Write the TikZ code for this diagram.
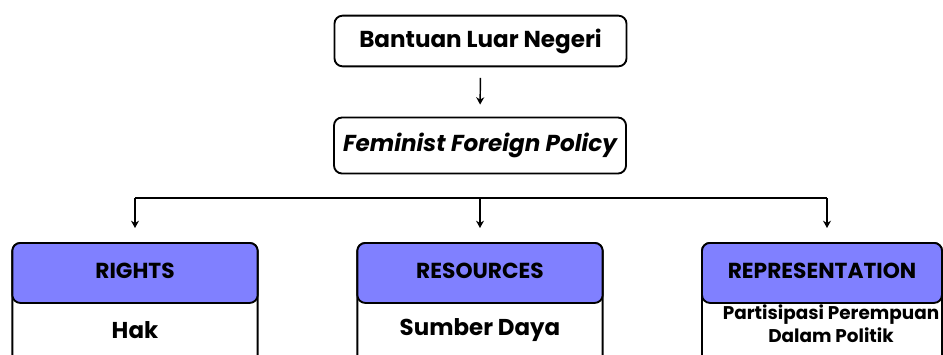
\documentclass[tikz,border=0pt]{standalone}
\usepackage{fontspec}
\setmainfont{Poppins}
\usetikzlibrary{arrows.meta,positioning}
\definecolor{headblue}{RGB}{128,128,255}
\tikzset{
  topbox/.style = {draw, line width=1.4pt, rounded corners=6pt, minimum width=219pt,
    minimum height=38pt, font=\fontsize{17.3}{19}\selectfont\bfseries},
  outerbox/.style = {draw, line width=1.4pt, rounded corners=6pt, fill=white,
    minimum width=184pt, minimum height=100pt},
  headbox/.style = {draw, line width=1.4pt, rounded corners=6pt, fill=headblue,
    minimum width=184pt, minimum height=45pt, text depth=3pt,
    font=\fontsize{16.3}{18}\selectfont\bfseries},
  bodytext/.style = {font=\fontsize{17.2}{19}\selectfont\bfseries, align=center},
  arr/.style = {line width=1.1pt, -{Stealth[length=5.5pt,width=6pt]}},
}
\begin{document}
\begin{tikzpicture}[x=0.75pt,y=-0.75pt]
\clip (0,0) rectangle (943,354);
\fill[white] (0,0) rectangle (943,354);
% top part
\node[topbox] (bantuan) at (480.5,41) {Bantuan Luar Negeri};
\node[topbox, minimum height=42pt] (ffp) at (480,145.5) {\itshape Feminist Foreign Policy};
\draw[arr, shorten <=8pt, shorten >=9pt] (bantuan.south) -- (ffp.north);
% branches
\coordinate (left) at (135,198);
\coordinate (mid) at (480,198);
\coordinate (right) at (827,198);
\draw[line width=1.1pt] (left) -- (right);
% three columns
\node[outerbox, anchor=north] (rightsbox) at (135,242) {};
\node[headbox, anchor=north] (rights) at (135,242) {RIGHTS};
\node[bodytext] (hak) at (135,330) {Hak};
\node[outerbox, anchor=north] (resbox) at (480,242) {};
\node[headbox, anchor=north] (resources) at (480,242) {RESOURCES};
\node[bodytext] (sumber) at (480,330) {Sumber Daya};
\node[outerbox, anchor=north, minimum width=180pt] (repbox) at (822,242) {};
\node[headbox, anchor=north, minimum width=180pt] (repr) at (822,242) {REPRESENTATION};
\node[bodytext, font=\fontsize{13.8}{17}\selectfont\bfseries] (partisipasi) at (831,323.5)
  {Partisipasi Perempuan\\Dalam Politik};
\draw[arr, shorten >=10.5pt] (left) -- (rights.north);
\draw[arr, shorten >=10.5pt] (mid) -- (resources.north);
\draw[arr, shorten >=10.5pt] (right) -- (right |- repr.north);
\end{tikzpicture}
\end{document}
